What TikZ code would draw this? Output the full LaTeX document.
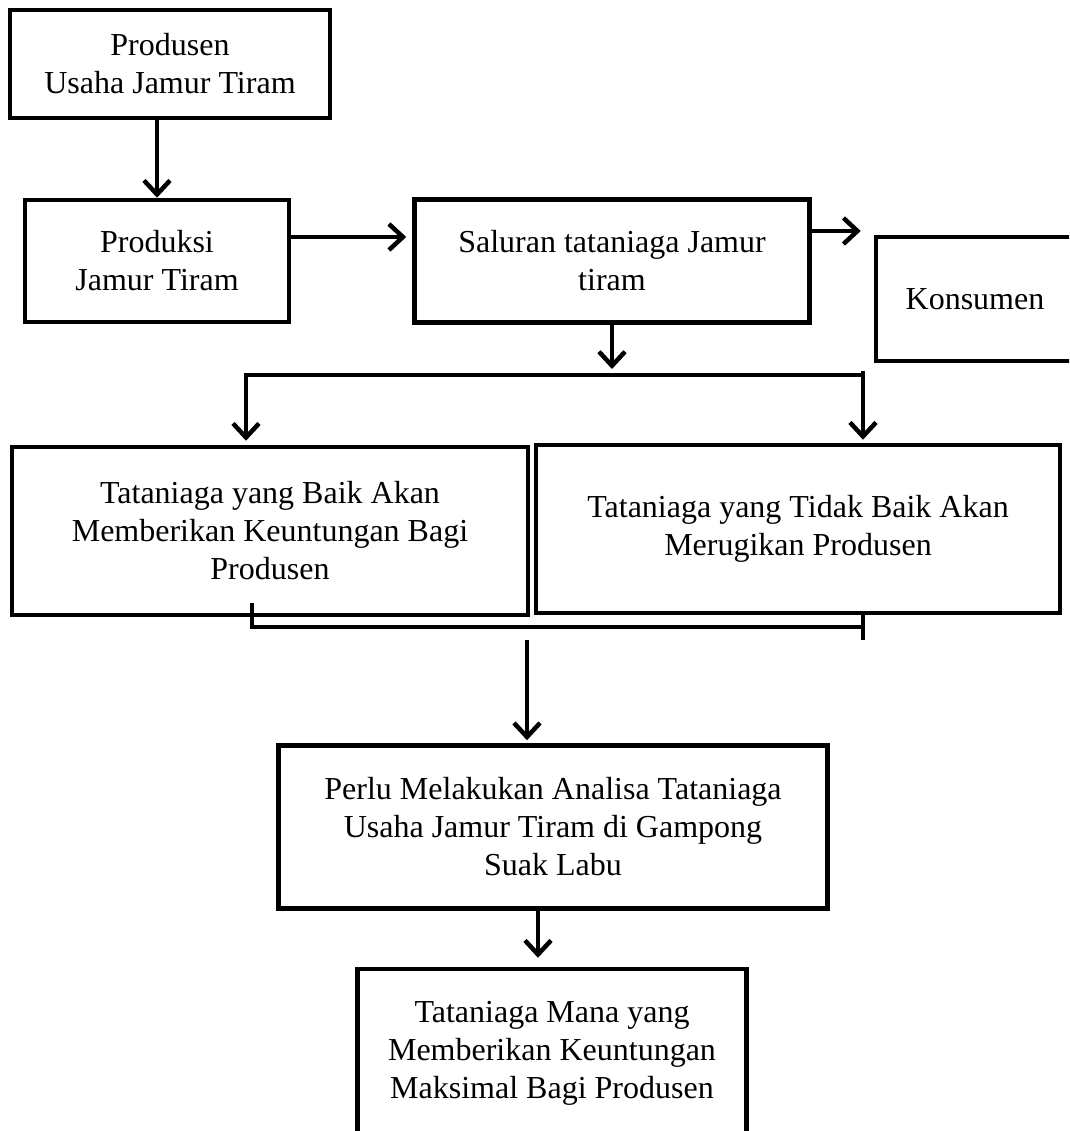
\documentclass[tikz,border=0pt]{standalone}
\usepackage{fontspec}
\setmainfont{Liberation Serif}
\usetikzlibrary{arrows.meta}

\begin{document}
\begin{tikzpicture}[x=1pt,y=-1pt,
  box/.style={draw, line width=4.5pt, align=center, inner sep=0pt,
    font=\fontsize{32}{38}\selectfont},
  link/.style={line width=4.5pt},
  arr/.style={link, -{Straight Barb[length=14pt,width=26pt]}}]

  % Define the page frame
  \fill[white] (0,0) rectangle (1069,1131);
  \clip (0,0) rectangle (1069,1131);

  % Draw the boxes
  \node[box, minimum width=320pt, minimum height=108pt] (prod) at (170,64) {Produsen\\Usaha Jamur Tiram};
  \node[box, minimum width=264pt, minimum height=122pt] (produksi) at (157,261) {Produksi\\Jamur Tiram};
  \node[box, minimum width=395pt, minimum height=123pt] (saluran) at (612,261) {Saluran tataniaga Jamur\\tiram};
  \node[box, minimum width=198pt, minimum height=124pt] (konsumen) at (975,299) {Konsumen};
  \node[box, minimum width=516pt, minimum height=168pt] (baik) at (270,531) {Tataniaga yang Baik Akan\\Memberikan Keuntungan Bagi\\Produsen};
  \node[box, minimum width=524pt, minimum height=168pt] (tidak) at (798,529) {Tataniaga yang Tidak Baik Akan\\Merugikan Produsen};
  \node[box, minimum width=549pt, minimum height=163pt] (perlu) at (553,827) {Perlu Melakukan Analisa Tataniaga\\Usaha Jamur Tiram di Gampong\\Suak Labu};
  \node[box, minimum width=389pt, minimum height=168pt] (mana) at (552,1053) {Tataniaga Mana yang\\Memberikan Keuntungan\\Maksimal Bagi Produsen};

  % Define the helper points
  \coordinate (r1) at (0,237);
  \coordinate (r2) at (0,231);
  \coordinate (sL) at (246,375);
  \coordinate (sR) at (863,375);
  \coordinate (mL) at (252,627);
  \coordinate (mR) at (863,627);
  \coordinate (mD) at (527,640);
  \coordinate (pm) at (538,0);

  % Draw the top chain
  \draw[arr] (prod.south -| produksi.north) -- (produksi.north);
  \draw[arr, shorten >=6pt] (produksi.east |- r1) -- (saluran.west |- r1);
  \draw[arr, shorten >=13pt] (saluran.east |- r2) -- (konsumen.west |- r2);

  % Split into the two kinds of tataniaga
  \draw[arr, shorten >=6pt] (saluran.south) -- (saluran.south |- sL);
  \draw[arr, shorten >=4pt] (sR) -- (sL) -- (sL |- baik.north);
  \draw[arr, shorten >=3pt] ([yshift=4pt]sR) -- (sR |- tidak.north);

  % Join them again
  \draw[link] ([yshift=24pt]mL) -- (mL) -- (mR);
  \draw[link] ([yshift=14pt]mR) -- ([yshift=-13pt]mR);
  \draw[arr, shorten >=3pt] (mD) -- (mD |- perlu.north);

  % Last step
  \draw[arr, shorten >=9pt] (perlu.south -| pm) -- (mana.north -| pm);

\end{tikzpicture}
\end{document}
